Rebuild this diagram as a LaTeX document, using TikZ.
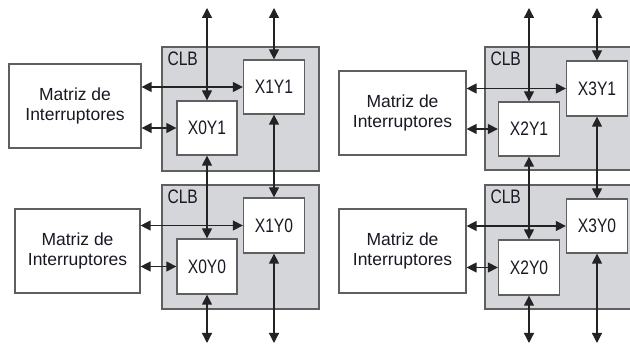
\documentclass[tikz,border=0pt]{standalone}
\usepackage{fontspec}
\usetikzlibrary{arrows.meta}
\newfontfamily\matf{Liberation Sans}
\newfontfamily\narf[FakeStretch=0.8]{Liberation Sans}
\definecolor{clbfill}{RGB}{212,214,217}
\definecolor{edgec}{RGB}{95,95,95}
\definecolor{wirec}{RGB}{35,35,35}
\definecolor{txtc}{RGB}{25,25,35}
\tikzset{
 clb/.style={draw=edgec, fill=clbfill, line width=1.3pt, inner sep=0pt},
 matbox/.style={draw=edgec, fill=white, line width=1.2pt, align=center, inner sep=0pt, text=txtc,
   font=\matf\fontsize{17.5}{20}\selectfont},
 cell/.style={draw=edgec, fill=white, line width=1.3pt, inner sep=0pt, text=txtc,
   font=\narf\fontsize{19.5}{22}\selectfont},
 clblabel/.style={anchor=north west, inner sep=0pt, text=txtc, font=\narf\fontsize{19.5}{22}\selectfont},
 wire/.style={draw=wirec, line width=1.3pt,
   {Triangle[length=10pt,width=10pt]}-{Triangle[length=10pt,width=10pt]}},
}
\begin{document}
\begin{tikzpicture}[x=1pt,y=-1pt]
\clip (0,0) rectangle (630,344);
\fill[white] (0,0) rectangle (630,344);
% CLB blocks
\node[clb, minimum width=157pt, minimum height=124pt] (clbA) at (240.5,109) {};
\node[clb, minimum width=157pt, minimum height=124pt] (clbB) at (240.5,247) {};
\node[clb, minimum width=155pt, minimum height=123pt] (clbC) at (562.5,108.5) {};
\node[clb, minimum width=155pt, minimum height=124pt] (clbD) at (562.5,247) {};
\node[clblabel] (lA) at ([shift={(6,5)}]clbA.north west) {CLB};
\node[clblabel] (lB) at ([shift={(6,5)}]clbB.north west) {CLB};
\node[clblabel] (lC) at ([shift={(6,5)}]clbC.north west) {CLB};
\node[clblabel] (lD) at ([shift={(6,5)}]clbD.north west) {CLB};
% switch matrices
\node[matbox, minimum width=132pt, minimum height=84pt] (matA) at (75,106) {Matriz de\\Interruptores};
\node[matbox, minimum width=125pt, minimum height=84pt] (matB) at (77.5,251) {Matriz de\\Interruptores};
\node[matbox, minimum width=127pt, minimum height=84pt] (matC) at (402.5,113) {Matriz de\\Interruptores};
\node[matbox, minimum width=127pt, minimum height=84pt] (matD) at (402.5,251) {Matriz de\\Interruptores};
% cells
\node[cell, minimum width=60pt, minimum height=54pt] (x0y1) at (207,128) {X0Y1};
\node[cell, minimum width=61pt, minimum height=54pt] (x1y1) at (274,87) {X1Y1};
\node[cell, minimum width=60pt, minimum height=55pt] (x0y0) at (207,266.5) {X0Y0};
\node[cell, minimum width=61pt, minimum height=55pt] (x1y0) at (274,225.5) {X1Y0};
\node[cell, minimum width=61pt, minimum height=54pt] (x2y1) at (529,129) {X2Y1};
\node[cell, minimum width=61pt, minimum height=55pt] (x3y1) at (597,88.5) {X3Y1};
\node[cell, minimum width=61pt, minimum height=55pt] (x2y0) at (529,267.5) {X2Y0};
\node[cell, minimum width=61pt, minimum height=54pt] (x3y0) at (597,226) {X3Y0};
% free ends
\coordinate (t0) at (207,8);
\coordinate (t1) at (274,8);
\coordinate (t2) at (529,8);
\coordinate (t3) at (597,8);
\coordinate (b0) at (207,343);
\coordinate (b1) at (274,343);
\coordinate (b2) at (529,343);
\coordinate (b3) at (597,343);
% vertical wires
\draw[wire] (t0) -- (x0y1.north);
\draw[wire] (t1) -- (x1y1.north);
\draw[wire] (x0y1.south) -- (x0y0.north);
\draw[wire] (x1y1.south) -- (x1y0.north);
\draw[wire] (x0y0.south) -- (b0);
\draw[wire] (x1y0.south) -- (b1);
\draw[wire] (t2) -- (x2y1.north);
\draw[wire] (t3) -- (x3y1.north);
\draw[wire] (x2y1.south) -- (x2y0.north);
\draw[wire] (x3y1.south) -- (x3y0.north);
\draw[wire] (x2y0.south) -- (b2);
\draw[wire] (x3y0.south) -- (b3);
% horizontal wires
\draw[wire] (matA.east |- x1y1.west) -- (x1y1.west);
\draw[wire] (matA.east |- x0y1.west) -- (x0y1.west);
\draw[wire] (matB.east |- x1y0.west) -- (x1y0.west);
\draw[wire] (matB.east |- x0y0.west) -- (x0y0.west);
\draw[wire] (matC.east |- x3y1.west) -- (x3y1.west);
\draw[wire] (matC.east |- x2y1.west) -- (x2y1.west);
\draw[wire] (matD.east |- x3y0.west) -- (x3y0.west);
\draw[wire] (matD.east |- x2y0.west) -- (x2y0.west);
\end{tikzpicture}
\end{document}
